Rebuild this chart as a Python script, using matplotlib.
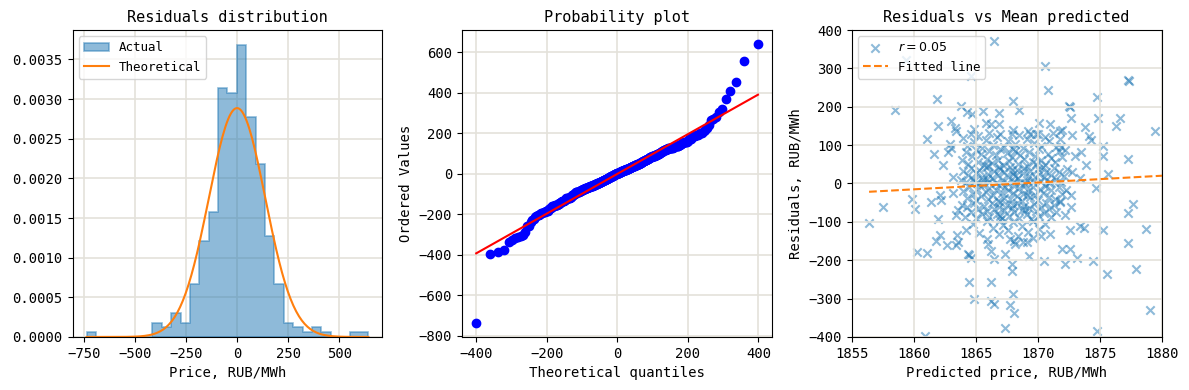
import numpy as np
import matplotlib
matplotlib.use("Agg")
import matplotlib.pyplot as plt
from statistics import NormalDist

# (predicted price, residual) pairs, grouped by histogram bin
points_low = [
    (1871.5, -737),
    (1860.9, -397), (1874.8, -384), (1867.4, -377),
    (1868.1, -337), (1879.1, -329),
    (1867.8, -318), (1866.5, -314), (1866.2, -305), (1864.9, -301), (1868.0, -288),
    (1864.5, -257), (1866.2, -256), (1875.6, -237),
]
points_m200 = [
    (1867.9, -228), (1877.95, -224), (1867.9, -211), (1872.2, -210), (1870.5, -202),
    (1874.5, -201), (1866.5, -198), (1873.2, -193), (1869.3, -189), (1864.5, -187),
    (1864.6, -194),
    (1860.25, -178), (1861.1, -181), (1862.7, -161), (1861.8, -150), (1863.6, -153),
    (1864.4, -183), (1865.9, -145), (1866.0, -158), (1866.2, -175), (1867.4, -184),
    (1867.8, -145), (1868.1, -149), (1868.2, -158), (1868.8, -152), (1869.1, -153),
    (1869.6, -141), (1872.0, -171), (1872.6, -170), (1877.3, -154), (1863.4, -160),
]
points_m100 = [
    (1856.4, -104), (1862.1, -133), (1872.6, -121), (1873.4, -112), (1873.7, -117),
    (1875.3, -121), (1878.7, -119),
    (1863.5, -133), (1864.2, -120), (1864.8, -105), (1865.3, -128), (1865.9, -98),
    (1866.4, -115), (1866.9, -132), (1867.2, -108), (1867.6, -121), (1868.0, -100),
    (1868.4, -137), (1868.7, -112), (1869.2, -126), (1869.6, -97), (1870.1, -118),
    (1870.6, -105), (1871.0, -131), (1870.3, -136), (1867.0, -95),
    (1857.5, -60), (1860.1, -66), (1861.4, -49), (1862.0, -92), (1863.4, -82),
    (1877.3, -76), (1877.7, -54),
    (1863.6, -70), (1863.9, -55), (1864.1, -88), (1864.3, -62), (1864.6, -75),
    (1864.9, -50), (1865.0, -90), (1865.2, -66), (1865.5, -80), (1865.7, -58),
    (1865.9, -72), (1866.1, -88), (1866.3, -52), (1866.5, -66), (1866.7, -79),
    (1866.9, -60), (1867.1, -91), (1867.3, -70), (1867.5, -55), (1867.7, -84),
    (1867.9, -63), (1868.1, -75), (1868.3, -50), (1868.5, -89), (1868.7, -68),
    (1868.9, -58), (1869.1, -80), (1869.3, -64), (1869.5, -92), (1869.7, -53),
    (1869.9, -72), (1870.1, -85), (1870.3, -60), (1870.5, -76), (1870.7, -50),
    (1870.9, -66), (1871.1, -88), (1871.3, -57), (1871.5, -73), (1871.8, -48),
    (1872.2, -82), (1872.7, -62), (1867.0, -86), (1868.0, -57), (1869.0, -69),
]
points_zero = [
    (1859.9, -40), (1862.1, -30), (1862.2, -43), (1863.2, -25), (1871.8, -46),
    (1872.3, -17), (1872.7, -30), (1874.7, -12),
    (1864.0, -20), (1864.3, -38), (1864.5, -8), (1864.8, -27), (1865.0, -44),
    (1865.1, -14), (1865.4, -33), (1865.6, -5), (1865.8, -22), (1866.0, -40),
    (1866.1, -11), (1866.4, -30), (1866.6, -18), (1866.8, -45), (1866.9, -3),
    (1867.1, -26), (1867.3, -37), (1867.4, -9), (1867.6, -16), (1867.8, -41),
    (1868.0, -24), (1868.1, -6), (1868.3, -33), (1868.5, -13), (1868.7, -46),
    (1868.8, -28), (1869.0, -4), (1869.2, -19), (1869.4, -36), (1869.6, -10),
    (1869.8, -29), (1870.0, -42), (1870.2, -15), (1870.4, -24), (1870.6, -7),
    (1870.9, -35), (1871.1, -18), (1871.4, -40), (1871.7, -8), (1872.0, -27),
    (1865.3, -2), (1867.0, -47), (1869.1, -31),
    (1863.2, 18), (1872.4, 38), (1872.8, 30), (1873.4, 14), (1875.7, 24), (1871.0, 5),
    (1863.8, 10), (1864.0, 32), (1864.2, 3), (1864.4, 22), (1864.6, 40),
    (1864.8, 13), (1865.0, 28), (1865.1, 1), (1865.3, 36), (1865.5, 18),
    (1865.6, 8), (1865.8, 42), (1866.0, 25), (1866.1, 4), (1866.3, 15),
    (1866.5, 33), (1866.6, 1), (1866.8, 21), (1867.0, 38), (1867.1, 10),
    (1867.3, 29), (1867.5, 2), (1867.6, 17), (1867.8, 43), (1868.0, 24),
    (1868.1, 6), (1868.3, 35), (1868.4, 14), (1868.6, 1), (1868.8, 27),
    (1868.9, 40), (1869.1, 9), (1869.3, 20), (1869.4, 33), (1869.6, 3),
    (1869.8, 16), (1870.0, 39), (1870.1, 26), (1870.3, 7), (1870.5, 18),
    (1870.7, 31), (1870.9, 1), (1871.1, 22), (1871.3, 41), (1871.5, 12),
    (1871.7, 30), (1871.9, 5), (1872.1, 19), (1865.9, 12), (1867.9, 34),
    (1869.0, 0), (1866.9, 44), (1868.2, 19), (1870.4, 43), (1864.9, 6),
]
points_p100 = [
    (1862.4, 47), (1861.6, 76), (1862.8, 82), (1873.9, 47), (1873.0, 71),
    (1873.5, 82), (1875.3, 71), (1877.3, 65), (1872.2, 88),
    (1863.9, 60), (1864.2, 82), (1864.4, 50), (1864.7, 71), (1865.0, 88),
    (1865.2, 57), (1865.4, 76), (1865.7, 47), (1865.9, 65), (1866.1, 85),
    (1866.3, 54), (1866.6, 73), (1866.8, 62), (1867.0, 90), (1867.2, 48),
    (1867.5, 79), (1867.7, 58), (1867.9, 69), (1868.2, 86), (1868.4, 52),
    (1868.6, 75), (1868.9, 64), (1869.1, 46), (1869.3, 83), (1869.6, 56),
    (1869.8, 72), (1870.1, 89), (1870.3, 61), (1870.6, 49), (1870.8, 78),
    (1871.1, 66), (1871.4, 55), (1871.7, 84), (1872.0, 70), (1866.0, 45),
    (1868.0, 90), (1869.9, 50),
    (1861.1, 117), (1862.9, 103), (1863.0, 92), (1872.8, 126), (1874.1, 123),
    (1874.3, 114), (1871.9, 96), (1875.3, 99),
    (1864.0, 118), (1864.3, 97), (1864.6, 130), (1864.9, 108), (1865.2, 125),
    (1865.5, 93), (1865.8, 114), (1866.1, 132), (1866.4, 101), (1866.7, 122),
    (1867.0, 128), (1867.3, 95), (1867.6, 111), (1867.9, 129), (1868.2, 104),
    (1868.5, 127), (1868.8, 92), (1869.1, 117), (1869.4, 130), (1869.7, 106),
    (1870.0, 128), (1870.3, 98), (1870.6, 121), (1870.9, 110), (1871.2, 131),
    (1871.5, 94), (1871.8, 116), (1869.9, 129),
]
points_high = [
    (1864.7, 180), (1876.6, 172), (1872.7, 171), (1874.9, 171), (1863.0, 163),
    (1870.1, 158), (1871.0, 156), (1865.8, 157), (1866.2, 154), (1866.9, 156),
    (1862.0, 151), (1876.3, 149), (1873.8, 148), (1863.3, 145), (1863.4, 137),
    (1879.5, 138), (1872.0, 139), (1871.8, 137), (1868.0, 140), (1869.2, 138),
    (1864.9, 141),
    (1874.8, 226), (1861.9, 219), (1868.0, 214), (1872.5, 203), (1872.6, 199),
    (1863.8, 202), (1858.5, 192), (1868.5, 191), (1865.6, 189), (1864.3, 187),
    (1866.9, 185),
    (1877.3, 269), (1877.4, 266), (1870.8, 244),
    (1870.6, 305), (1864.6, 279),
    (1859.4, 323),
    (1866.5, 371), (1880.8, 408),
    (1871.5, 455),
    (1866.0, 556),
    (1868.2, 642),
]

points = points_low + points_m200 + points_m100 + points_zero + points_p100 + points_high
pred, resid = np.array(points, dtype=float).T

plt.rcParams['font.family'] = 'monospace'

mu, sigma = resid.mean(), resid.std()

fig, (ax1, ax2, ax3) = plt.subplots(1, 3, figsize=(11.89, 3.9), dpi=100)
fig.subplots_adjust(left=0.061, right=0.977, bottom=0.136, top=0.923, wspace=0.257)
grid_kw = dict(color='#e4e2da', linewidth=1.2)

# residuals distribution
ax1.hist(resid, bins=30, density=True, histtype='stepfilled', alpha=0.5, color='C0',
         edgecolor='C0', linewidth=1.2, label='Actual')
xs = np.linspace(resid.min(), resid.max(), 200)
ax1.plot(xs, [NormalDist(mu, sigma).pdf(v) for v in xs], color='C1', label='Theoretical')
ax1.set_title('Residuals distribution', fontsize=11)
ax1.set_xlabel('Price, RUB/MWh')
ax1.legend(loc='upper left', fontsize=9)
ax1.set_axisbelow(True)
ax1.grid(**grid_kw)

# probability plot
n = len(resid)
m = np.empty(n)
m[-1] = 0.5 ** (1.0 / n)
m[0] = 1 - m[-1]
m[1:-1] = (np.arange(2, n) - 0.3175) / (n + 0.365)
osm = np.array([NormalDist(mu, sigma).inv_cdf(p) for p in m])
osr = np.sort(resid)
slope, intercept = np.polyfit(osm, osr, 1)
ax2.plot(osm, osr, 'bo')
ax2.plot(osm, slope * osm + intercept, 'r-')
ax2.set_title('Probability plot', fontsize=11)
ax2.set_xlabel('Theoretical quantiles')
ax2.set_ylabel('Ordered Values')
ax2.grid(**grid_kw)

# residuals vs predicted
r = np.corrcoef(pred, resid)[0, 1]
k, b = np.polyfit(pred, resid, 1)
xl = np.array([pred.min(), pred.max()])
ax3.scatter(pred, resid, marker='x', alpha=0.5, color='C0', label=f'$r = {r:.2f}$')
ax3.plot(xl, k * xl + b, '--', color='C1', label='Fitted line')
ax3.set_xlim(1855, 1880)
ax3.set_ylim(-400, 400)
ax3.set_title('Residuals vs Mean predicted', fontsize=11)
ax3.set_xlabel('Predicted price, RUB/MWh')
ax3.set_ylabel('Residuals, RUB/MWh')
ax3.legend(loc='upper left', fontsize=9)
ax3.grid(**grid_kw)

fig.savefig('out.png', dpi=100)
